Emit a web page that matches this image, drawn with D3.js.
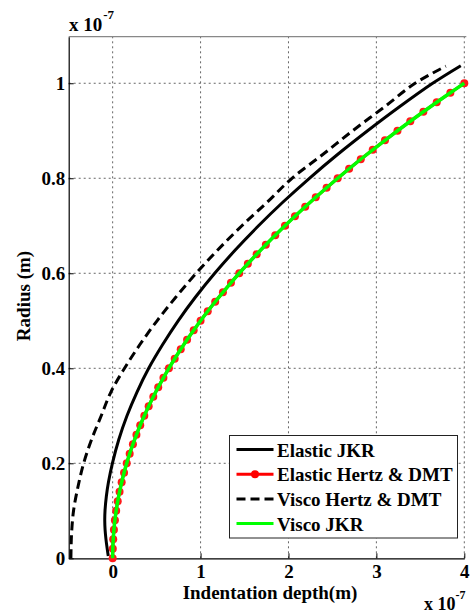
<!DOCTYPE html>
<html>
<head>
<meta charset="utf-8">
<script src="https://cdn.jsdelivr.net/npm/d3@7"></script>
<style>
  body { margin: 0; background: #fff; }
  svg { display: block; }
  svg text { font-family: 'Liberation Serif', 'DejaVu Serif', serif !important; font-weight: bold; fill: #000; }
</style>
</head>
<body>
<svg id="chart" width="470" height="614"></svg>
<script>
// ---- data (units: depth x1e-7 m, radius x1e-7 m) ----
const xTicks = [0, 1, 2, 3, 4];
const yTicks = [0, 0.2, 0.4, 0.6, 0.8, 1];
const yTickLabels = ["0", "0.2", "0.4", "0.6", "0.8", "1"];

const legendLabels = ["Elastic JKR", "Elastic Hertz & DMT", "Visco Hertz & DMT", "Visco JKR"];

// Elastic JKR (solid black)
const jkrRadius = [0.005, 0.02, 0.04, 0.06, 0.08, 0.10, 0.13, 0.16, 0.20, 0.25, 0.30, 0.35, 0.40, 0.45, 0.50, 0.55, 0.60, 0.65, 0.70, 0.75, 0.80, 0.85, 0.90, 0.95, 1.00, 1.037];
const jkrDepth  = [-0.05, -0.062, -0.076, -0.086, -0.09, -0.087, -0.072, -0.048, -0.003, 0.07, 0.163, 0.277, 0.41, 0.569, 0.745, 0.943, 1.161, 1.40, 1.659, 1.938, 2.238, 2.558, 2.90, 3.259, 3.64, 3.96];

// Elastic Hertz & DMT (red, markers) and Visco JKR (green) - same curve
const hertzRadius = [0, 0.02, 0.04, 0.06, 0.08, 0.10, 0.12, 0.14, 0.16, 0.18, 0.20, 0.22, 0.24, 0.26, 0.28, 0.30, 0.32, 0.34, 0.36, 0.38, 0.40, 0.42, 0.44, 0.46, 0.48, 0.50, 0.52, 0.54, 0.56, 0.58, 0.60, 0.62, 0.64, 0.66, 0.68, 0.70, 0.72, 0.74, 0.76, 0.78, 0.80, 0.82, 0.84, 0.86, 0.88, 0.90, 0.92, 0.94, 0.96, 0.98, 1.00];
const hertzDepth  = [0, 0.0016, 0.0064, 0.0144, 0.0256, 0.04, 0.0576, 0.0784, 0.1024, 0.1296, 0.16, 0.1936, 0.2304, 0.2704, 0.3136, 0.36, 0.4096, 0.4624, 0.5184, 0.5776, 0.64, 0.7056, 0.7744, 0.8464, 0.9216, 1.0, 1.0816, 1.1664, 1.2544, 1.3456, 1.44, 1.5376, 1.6384, 1.7424, 1.8496, 1.96, 2.0736, 2.1904, 2.3104, 2.4336, 2.56, 2.6896, 2.8224, 2.9584, 3.0976, 3.24, 3.3856, 3.5344, 3.6864, 3.8416, 4.0];

// Visco Hertz & DMT (dashed black)
const viscoRadius = [0, 0.05, 0.10, 0.15, 0.20, 0.25, 0.30, 0.35, 0.40, 0.45, 0.50, 0.55, 0.60, 0.65, 0.70, 0.75, 0.80, 0.85, 0.90, 0.95, 1.00, 1.036];
const viscoDepth  = [-0.475, -0.468, -0.445, -0.395, -0.33, -0.24, -0.13, -0.02, 0.135, 0.31, 0.505, 0.72, 0.95, 1.2, 1.47, 1.76, 2.04, 2.39, 2.73, 3.09, 3.44, 3.79];

// ---- layout ----
const FONT = "'Liberation Serif', 'DejaVu Serif', serif";
const svg = d3.select("#chart").attr("font-family", FONT);
const L = 68.7, R = 464.3, T = 36.7, B = 558.3;
const x = d3.scaleLinear().domain([-0.5, 4]).range([L, R]);
const y = d3.scaleLinear().domain([0, 1.098]).range([B, T]);

// grid
const grid = svg.append("g");
grid.selectAll("line.gx").data(xTicks).enter().append("line")
  .attr("x1", d => x(d)).attr("x2", d => x(d)).attr("y1", B).attr("y2", T)
  .attr("stroke", "#666").attr("stroke-width", 1).attr("stroke-dasharray", "2,3");
grid.selectAll("line.gy").data(yTicks.slice(1)).enter().append("line")
  .attr("y1", d => y(d)).attr("y2", d => y(d)).attr("x1", L).attr("x2", R)
  .attr("stroke", "#666").attr("stroke-width", 1).attr("stroke-dasharray", "2,3");

// top border
svg.append("line").attr("x1", L).attr("x2", R + 2).attr("y1", T).attr("y2", T)
  .attr("stroke", "#888").attr("stroke-width", 1.2);

// axes
const xAxis = d3.axisBottom(x).tickValues(xTicks).tickSizeInner(-5).tickSizeOuter(0).tickFormat(d3.format("d"));
const gx = svg.append("g").attr("transform", `translate(0,${B})`).call(xAxis).attr("font-family", FONT);
gx.select(".domain").attr("stroke", "#000").attr("stroke-width", 1.2);
gx.selectAll(".tick line").attr("stroke", "#000");
gx.selectAll(".tick text").attr("y", 20).attr("dy", 0)
  .style("font-size", "19px");

const yAxis = d3.axisLeft(y).tickValues(yTicks).tickSizeInner(-5).tickSizeOuter(0)
  .tickFormat((d, i) => yTickLabels[i]);
const gy = svg.append("g").attr("transform", `translate(${L},0)`).call(yAxis).attr("font-family", FONT);
gy.select(".domain").attr("stroke", "#000").attr("stroke-width", 1.2);
gy.selectAll(".tick line").attr("stroke", "#000");
gy.selectAll(".tick text").attr("x", -3.5).attr("dy", "0.33em")
  .style("font-size", "19px");

// curves
const line = d3.line().x(d => x(d[0])).y(d => y(d[1])).curve(d3.curveCatmullRom);
const jkr = jkrDepth.map((d, i) => [d, jkrRadius[i]]);
const hertz = hertzDepth.map((d, i) => [d, hertzRadius[i]]);
const visco = viscoDepth.map((d, i) => [d, viscoRadius[i]]);

const plot = svg.append("g");
plot.append("path").datum(jkr).attr("d", line)
  .attr("fill", "none").attr("stroke", "#000").attr("stroke-width", 3);
plot.append("path").datum(hertz).attr("d", line)
  .attr("fill", "none").attr("stroke", "#ff0000").attr("stroke-width", 3);
plot.selectAll("circle.m").data(hertz).enter().append("circle")
  .attr("cx", d => x(d[0])).attr("cy", d => y(d[1])).attr("r", 4)
  .attr("fill", "#ff1a1a");
plot.append("path").datum(visco).attr("d", line)
  .attr("fill", "none").attr("stroke", "#000").attr("stroke-width", 3)
  .attr("stroke-dasharray", "9,5");
plot.append("path").datum(hertz).attr("d", line)
  .attr("fill", "none").attr("stroke", "#00ff00").attr("stroke-width", 3.5);

// axis labels
svg.append("text").attr("x", 270).attr("y", 599).attr("text-anchor", "middle")
  .style("font-size", "19px").text("Indentation depth(m)");
svg.append("text").attr("transform", "translate(29.5,296) rotate(-90)")
  .attr("text-anchor", "middle").style("font-size", "19px").text("Radius (m)");

// exponent labels
const ex1 = svg.append("text").attr("x", 69).attr("y", 30.7).style("font-size", "19px");
ex1.append("tspan").text("x 10");
ex1.append("tspan").attr("dy", -12).attr("dx", 1).style("font-size", "13px").text("-7");
const ex2 = svg.append("text").attr("x", 424).attr("y", 610).style("font-size", "18px");
ex2.append("tspan").text("x 10");
ex2.append("tspan").attr("dy", -11).attr("dx", 0).style("font-size", "12px").text("-7");

// legend
const lg = svg.append("g");
lg.append("rect").attr("x", 229.5).attr("y", 435.5).attr("width", 228).attr("height", 102.5)
  .attr("fill", "#fff").attr("stroke", "#222").attr("stroke-width", 1);
const rowY = [449.5, 474.2, 498.9, 523.6];
const styles = [
  {stroke: "#000", w: 3, dash: null, marker: false},
  {stroke: "#ff0000", w: 3, dash: null, marker: true},
  {stroke: "#000", w: 3, dash: "9,5", marker: false},
  {stroke: "#00ff00", w: 3, dash: null, marker: false}
];
legendLabels.forEach((lab, i) => {
  const s = styles[i];
  const ln = lg.append("line").attr("x1", 236.5).attr("x2", 273.5)
    .attr("y1", rowY[i]).attr("y2", rowY[i])
    .attr("stroke", s.stroke).attr("stroke-width", s.w);
  if (s.dash) ln.attr("stroke-dasharray", s.dash);
  if (s.marker) lg.append("circle").attr("cx", 255).attr("cy", rowY[i]).attr("r", 4).attr("fill", "#ff0000");
  lg.append("text").attr("x", 277).attr("y", rowY[i] + 7).style("font-size", "19px").text(lab);
});
</script>
</body>
</html>
